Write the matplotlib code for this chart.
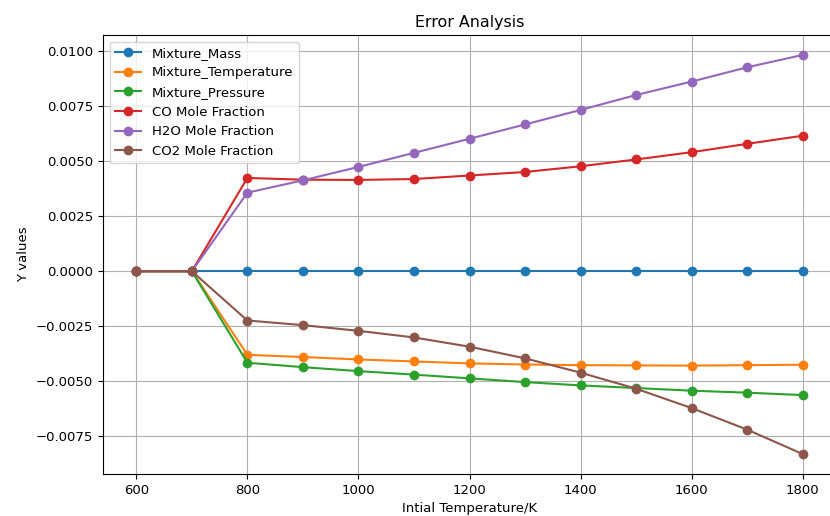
import numpy as np
import matplotlib
matplotlib.use("Agg")
import matplotlib.pyplot as plt

plt.rcParams["font.size"] = 9.5

# initial temperatures
temps = [600, 700, 800, 900, 1000, 1100, 1200, 1300, 1400, 1500, 1600, 1700, 1800]

# errors
mixture_mass = [0, 0, 0, 0, 0, 0, 0, 0, 0, 0, 0, 0, 0]
mixture_temperature = [0, 0, -0.00380, -0.00390, -0.00401, -0.00410, -0.00419, -0.00424,
                       -0.00427, -0.00428, -0.00429, -0.00427, -0.00425]
mixture_pressure = [0, 0, -0.00416, -0.00436, -0.00454, -0.00470, -0.00487, -0.00504,
                    -0.00519, -0.00531, -0.00543, -0.00552, -0.00563]
co_frac = [0, 0, 0.00424, 0.00416, 0.00415, 0.00419, 0.00435, 0.00451,
           0.00477, 0.00508, 0.00541, 0.00579, 0.00616]
h2o_frac = [0, 0, 0.00357, 0.00413, 0.00474, 0.00538, 0.00602, 0.00667,
            0.00733, 0.00801, 0.00862, 0.00927, 0.00983]
co2_frac = [0, 0, -0.00224, -0.00245, -0.00271, -0.00301, -0.00343, -0.00396,
            -0.00461, -0.00534, -0.00622, -0.00720, -0.00831]

series = [
    ("Mixture_Mass", mixture_mass),
    ("Mixture_Temperature", mixture_temperature),
    ("Mixture_Pressure", mixture_pressure),
    ("CO Mole Fraction", co_frac),
    ("H2O Mole Fraction", h2o_frac),
    ("CO2 Mole Fraction", co2_frac),
]

fig = plt.figure(figsize=(8.3, 5.16), dpi=100)
# axes run a little past the right edge, like the cropped original
ax = fig.add_axes([103/830, 42/516, 733/830, 439/516])

for name, vals in series:
    ax.plot(temps, vals, marker="o", label=name)

ax.set_title("Error Analysis", fontsize=11.4)
ax.set_xlabel("Intial Temperature/K")
ax.set_ylabel("Y values")
ax.grid(True)
ax.legend(loc="upper left")

fig.savefig("out.png", dpi=100)
